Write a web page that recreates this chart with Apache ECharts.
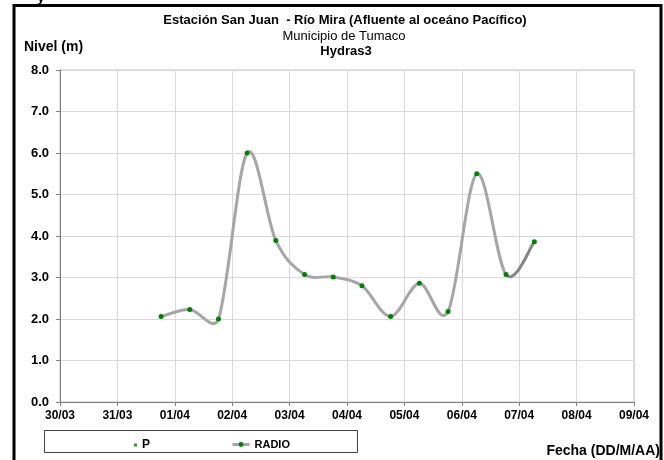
<!DOCTYPE html>
<html><head><meta charset="utf-8">
<script src="https://cdn.jsdelivr.net/npm/echarts@6/dist/echarts.min.js"></script>
<style>html,body{margin:0;padding:0;background:#fff}#c{width:664px;height:460px}</style>
</head><body><div id="c"></div>
<script>
const tickLabels = ['30/03','31/03','01/04','02/04','03/04','04/04','05/04','06/04','07/04','08/04','09/04'];
const times = ['31/03 18:15','01/04 06:15','01/04 18:15','02/04 06:15','02/04 18:15','03/04 06:15','03/04 18:15','04/04 06:15','04/04 18:15','05/04 06:15','05/04 18:15','06/04 06:15','06/04 18:30','07/04 06:20'];
const radio = [2.06, 2.23, 2.00, 6.00, 3.89, 3.07, 3.01, 2.80, 2.06, 2.86, 2.18, 5.50, 3.07, 3.86];
const pValues = [];

function dayPos(t) {
  const [d, hm] = t.split(' ');
  const [h, m] = hm.split(':').map(Number);
  return tickLabels.indexOf(d) + h / 24 + m / 1440;
}
const radioData = times.map((t, i) => [dayPos(t), radio[i]]);
const n = radioData.length;

// spreadsheet-style smoothing factor (pixel space)
function factor(seg, vx, vy) {
  const d = Math.hypot(vx, vy);
  return d > 0 ? Math.min(1 / 6, seg / (2 * d)) : 0;
}

const FONT = '"Liberation Sans", Arial, sans-serif';
const chart = echarts.init(document.getElementById('c'), null, {renderer: 'canvas'});
chart.setOption({
  animation: false,
  backgroundColor: '#fff',
  textStyle: {fontFamily: FONT},
  grid: {left: 60, right: 30, top: 70, bottom: 58, show: true, borderColor: '#bfbfbf', borderWidth: 1},
  xAxis: {
    type: 'value', min: 0, max: 10, interval: 1,
    axisLine: {show: true, lineStyle: {color: '#808080', width: 1}},
    axisTick: {show: true, length: 4, lineStyle: {color: '#808080'}},
    axisLabel: {margin: 8, color: '#000', fontWeight: 'bold', fontSize: 12, fontFamily: FONT,
      formatter: v => tickLabels[Math.round(v)] || ''},
    splitLine: {show: true, lineStyle: {color: '#d9d9d9', width: 1}}
  },
  yAxis: {
    type: 'value', min: 0, max: 8, interval: 1,
    axisLine: {show: true, lineStyle: {color: '#808080', width: 1}},
    axisTick: {show: true, length: 4, lineStyle: {color: '#808080'}},
    axisLabel: {margin: 11, color: '#000', fontWeight: 'bold', fontSize: 13, fontFamily: FONT,
      formatter: v => v.toFixed(1)},
    splitLine: {show: true, lineStyle: {color: '#d9d9d9', width: 1}}
  },
  legend: [
    {data: ['P'], left: 129, top: 434, itemWidth: 3, itemHeight: 3, icon: 'rect',
     textStyle: {fontWeight: 'bold', fontSize: 12, color: '#000', fontFamily: FONT}},
    {data: ['RADIO'], left: 226, top: 434, itemWidth: 17, itemHeight: 6,
     lineStyle: {color: '#a6a6a6', width: 3, opacity: 1},
     textStyle: {fontWeight: 'bold', fontSize: 11, color: '#000', fontFamily: FONT}}
  ],
  series: [
    {name: 'P', type: 'scatter', data: pValues, symbolSize: 3, itemStyle: {color: '#008000'}},
    {name: 'RADIO_curve', type: 'custom', coordinateSystem: 'cartesian2d', data: radioData,
     encode: {x: 0, y: 1}, clip: false, z: 2, silent: true,
     renderItem: (params, api) => {
       const i = params.dataIndex;
       if (i >= n - 1) return null;
       const P = k => api.coord(radioData[Math.max(0, Math.min(n - 1, k))]);
       const p0 = P(i - 1), p1 = P(i), p2 = P(i + 1), p3 = P(i + 2);
       const seg = Math.hypot(p2[0] - p1[0], p2[1] - p1[1]);
       const ax = p2[0] - p0[0], ay = p2[1] - p0[1];
       const bx = p3[0] - p1[0], by = p3[1] - p1[1];
       const fa = factor(seg, ax, ay), fb = factor(seg, bx, by);
       return {
         type: 'bezierCurve',
         shape: {x1: p1[0], y1: p1[1], x2: p2[0], y2: p2[1],
                 cpx1: p1[0] + ax * fa, cpy1: p1[1] + ay * fa,
                 cpx2: p2[0] - bx * fb, cpy2: p2[1] - by * fb},
         style: {stroke: i === n - 2 ? '#858585' : '#a6a6a6', lineWidth: 3, fill: null, lineCap: 'round'}
       };
     }},
    {name: 'RADIO', type: 'line', data: radioData,
     symbol: 'circle', symbolSize: 5, showAllSymbol: true,
     lineStyle: {color: '#a6a6a6', width: 3, opacity: 0},
     itemStyle: {color: '#008000', borderWidth: 0}, z: 3}
  ],
  graphic: [
    {type: 'rect', shape: {x: 14, y: 5.5, width: 647, height: 480}, style: {fill: 'none', stroke: '#000', lineWidth: 3}, silent: true},
    {type: 'rect', shape: {x: 44.5, y: 430.5, width: 313, height: 22}, style: {fill: 'none', stroke: '#404040', lineWidth: 1}, silent: true, z: -1},
    {type: 'text', x: 37, y: -9, style: {text: 'y', font: 'bold 14px ' + FONT, fill: '#000'}},
    {type: 'text', x: 345, y: 20, style: {text: 'Estación San Juan  - Río Mira (Afluente al oceáno Pacífico)', font: 'bold 13px ' + FONT, fill: '#000', align: 'center', verticalAlign: 'middle'}},
    {type: 'text', x: 344, y: 36, style: {text: 'Municipio de Tumaco', font: '13px ' + FONT, fill: '#000', align: 'center', verticalAlign: 'middle'}},
    {type: 'text', x: 346, y: 51, style: {text: 'Hydras3', font: 'bold 13px ' + FONT, fill: '#000', align: 'center', verticalAlign: 'middle'}},
    {type: 'text', x: 24, y: 47, style: {text: 'Nivel (m)', font: 'bold 14px ' + FONT, fill: '#000', align: 'left', verticalAlign: 'middle'}},
    {type: 'text', x: 660, y: 451, style: {text: 'Fecha (DD/M/AA)', font: 'bold 14px ' + FONT, fill: '#000', align: 'right', verticalAlign: 'middle'}}
  ]
});
</script></body></html>
